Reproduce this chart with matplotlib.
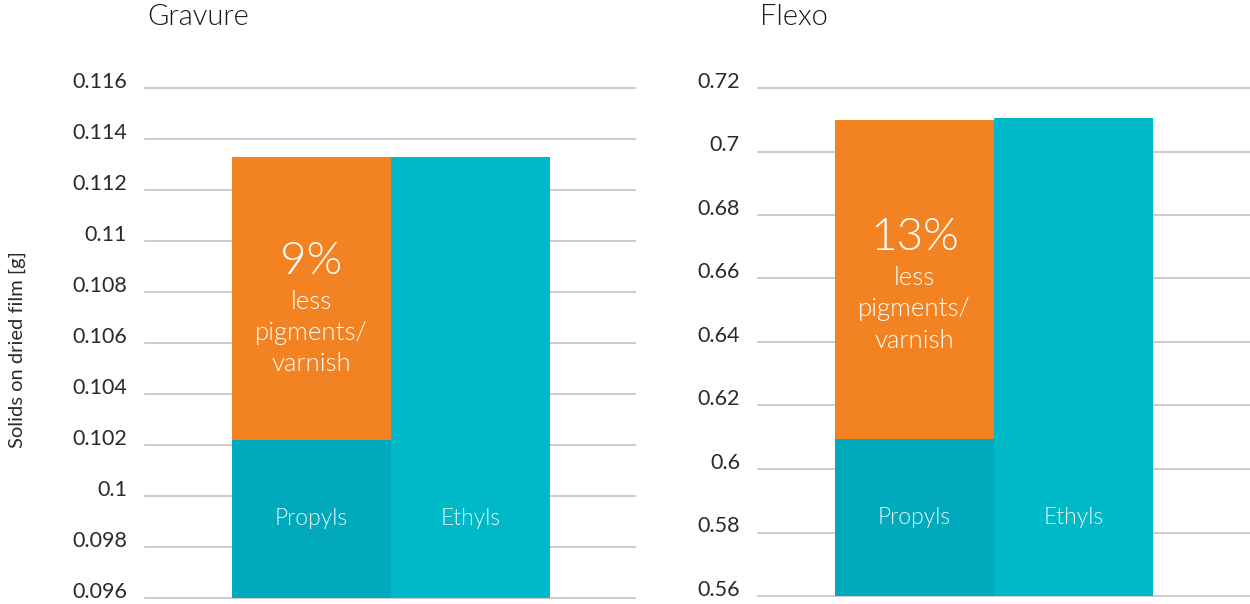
import matplotlib
matplotlib.use("Agg")
import matplotlib.pyplot as plt
from matplotlib.transforms import ScaledTranslation

plt.rcParams['font.family'] = ['Lato', 'DejaVu Sans']
plt.rcParams['font.weight'] = 300

# Data
panels = ["Gravure", "Flexo"]
categories = ["Propyls", "Ethyls"]
propyl_base = [0.1022, 0.6094]
propyl_saving = [0.1133 - 0.1022, 0.7100 - 0.6094]   # orange stacked segment
ethyl_total = [0.1133, 0.7105]
percent_labels = ["9%", "13%"]
note_lines = ["less", "pigments/", "varnish"]
y_ticks = [
    [0.096, 0.098, 0.1, 0.102, 0.104, 0.106, 0.108, 0.11, 0.112, 0.114, 0.116],
    [0.56, 0.58, 0.6, 0.62, 0.64, 0.66, 0.68, 0.7, 0.72],
]
y_ticklabels = [
    ["0.096", "0.098", "0.1", "0.102", "0.104", "0.106", "0.108", "0.11", "0.112", "0.114", "0.116"],
    ["0.56", "0.58", "0.6", "0.62", "0.64", "0.66", "0.68", "0.7", "0.72"],
]
y_label = "Solids on dried film [g]"

# Styling
ORANGE = "#F38322"
TEAL_DARK = "#00A9BC"
TEAL = "#00B9C8"
GRID = "#C8C8C8"
TEXT = "#2a2a2a"

W, H = 1250, 604
fig = plt.figure(figsize=(W / 100, H / 100), dpi=100)

# axes rectangles in pixels: left, right, top, bottom
rects = [(145, 635, 88, 598), (758, 1250, 88, 596)]
xlims = [(-1.047, 2.035), (-0.984, 2.11)]

for i, name in enumerate(panels):
    l, r, t, b = rects[i]
    ax = fig.add_axes([l / W, (H - b) / H, (r - l) / W, (b - t) / H])
    ticks = y_ticks[i]
    ax.set_ylim(ticks[0], ticks[-1])
    ax.set_xlim(*xlims[i])

    for v in ticks:
        ax.axhline(v, color=GRID, lw=1.3, zorder=0, clip_on=False)

    x = [0, 1]
    ax.bar(x[0], propyl_base[i] - ticks[0], bottom=ticks[0], width=1.0,
           color=TEAL_DARK, zorder=2, linewidth=0)
    ax.bar(x[0], propyl_saving[i], bottom=propyl_base[i], width=1.0,
           color=ORANGE, zorder=2, linewidth=0)
    ax.bar(x[1], ethyl_total[i] - ticks[0], bottom=ticks[0], width=1.0,
           color=TEAL, zorder=2, linewidth=0)

    # category labels inside the bars
    y_cat = ticks[0] + (propyl_base[i] - ticks[0]) * 0.5
    for xi, cat in zip(x, categories):
        ax.text(xi, y_cat, cat, color="white", ha="center", va="center",
                fontsize=16.5, zorder=3, alpha=0.92)

    # note on the orange segment
    y_pct = propyl_base[i] + propyl_saving[i] * 0.63
    ax.text(0, y_pct, percent_labels[i], color="white", ha="center",
            va="center", fontsize=33, zorder=3)
    for k, line in enumerate(note_lines):
        ax.annotate(line, xy=(0, y_pct), xytext=(0, -29 - 22.5 * k),
                    textcoords="offset points", color="white", ha="center",
                    va="center", fontsize=18.5, zorder=3)

    ax.set_yticks(ticks)
    ax.set_yticklabels(y_ticklabels[i], fontsize=15.5, color=TEXT,
                       fontweight="normal")
    ax.tick_params(axis="y", length=0, pad=13)
    shift = ScaledTranslation(0, 6 / 72, fig.dpi_scale_trans)
    for lab in ax.get_yticklabels():
        lab.set_transform(lab.get_transform() + shift)
    ax.set_xticks([])
    for s in ax.spines.values():
        s.set_visible(False)
    ax.patch.set_alpha(0)

    fig.text((l + 2) / W, 1 - 17 / H, name, fontsize=21, color="#1a1a1a",
             ha="left", va="center")

fig.text(17 / W, 1 - 350 / H, y_label, rotation=90, fontsize=14.5,
         color=TEXT, ha="center", va="center", fontweight="normal")

fig.savefig("out.png", dpi=100, facecolor="white")
